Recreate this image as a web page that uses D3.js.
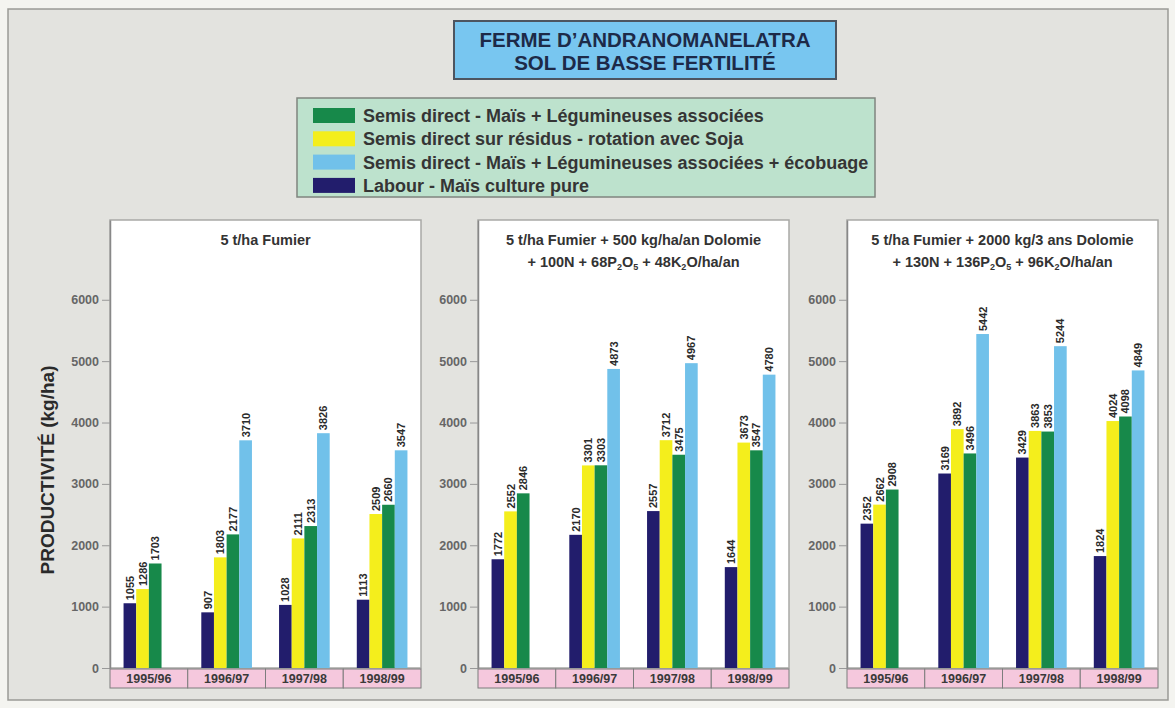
<!DOCTYPE html>
<html>
<head>
<meta charset="utf-8">
<script src="https://cdn.jsdelivr.net/npm/d3@7"></script>
<style>
  body { margin: 0; background: #f4f4f0; }
  svg { display: block; font-family: "Liberation Sans", Arial, sans-serif; }
  .narrow { font-family: "Liberation Sans Narrow", "Liberation Sans", Arial, sans-serif; }
</style>
</head>
<body>
<div id="chart"></div>
<script>
const width = 1175, height = 708;

// data
const years = ["1995/96", "1996/97", "1997/98", "1998/99"];
const seriesKeys = ["labour", "soja", "legum", "ecob"];
const seriesNames = {
  legum: "Semis direct - Maïs + Légumineuses associées",
  soja: "Semis direct sur résidus - rotation avec Soja",
  ecob: "Semis direct - Maïs + Légumineuses associées + écobuage",
  labour: "Labour - Maïs culture pure"
};
const legendOrder = ["legum", "soja", "ecob", "labour"];
const colors = { labour: "#221d6c", soja: "#f4ee1c", legum: "#17894a", ecob: "#71c1ea" };

// one entry per panel, one value per year
const labour = [[1055, 907, 1028, 1113], [1772, 2170, 2557, 1644], [2352, 3169, 3429, 1824]];
const soja   = [[1286, 1803, 2111, 2509], [2552, 3301, 3712, 3673], [2662, 3892, 3863, 4024]];
const legum  = [[1703, 2177, 2313, 2660], [2846, 3303, 3475, 3547], [2908, 3496, 3853, 4098]];
const ecob   = [[null, 3710, 3826, 3547], [null, 4873, 4967, 4780], [null, 5442, 5244, 4849]];
const yTicks = [0, 1000, 2000, 3000, 4000, 5000, 6000];

// panel titles, [text, subscript] pieces per line
const panelTitles = [
  [[["5 t/ha Fumier"]]],
  [[["5 t/ha Fumier + 500 kg/ha/an Dolomie"]],
   [["+ 100N + 68P"], ["2", 1], ["O"], ["5", 1], [" + 48K"], ["2", 1], ["O/ha/an"]]],
  [[["5 t/ha Fumier + 2000 kg/3 ans Dolomie"]],
   [["+ 130N + 136P"], ["2", 1], ["O"], ["5", 1], [" + 96K"], ["2", 1], ["O/ha/an"]]]
];

const seriesData = { labour, soja, legum, ecob };

const svg = d3.select("#chart").append("svg")
  .attr("width", width).attr("height", height);

// outer frame
svg.append("rect")
  .attr("x", 8).attr("y", 9).attr("width", 1160).attr("height", 691)
  .attr("fill", "#e3e3df").attr("stroke", "#9a9a96").attr("stroke-width", 1.5);

// main title box
svg.append("rect")
  .attr("x", 454).attr("y", 21).attr("width", 382).attr("height", 58)
  .attr("fill", "#78c6f0").attr("stroke", "#4d5560").attr("stroke-width", 2);
svg.append("g").selectAll("text")
  .data(["FERME D’ANDRANOMANELATRA", "SOL DE BASSE FERTILITÉ"])
  .join("text")
  .attr("x", 645).attr("y", (d, i) => 47 + i * 23)
  .attr("text-anchor", "middle")
  .attr("font-size", 20.5).attr("font-weight", "bold")
  .attr("fill", "#1d2a48")
  .text(d => d);

// legend
const legend = svg.append("g");
legend.append("rect")
  .attr("x", 297).attr("y", 98).attr("width", 578).attr("height", 99)
  .attr("fill", "#bde2cd").attr("stroke", "#80857f").attr("stroke-width", 1.5);
const li = legend.selectAll("g.item").data(legendOrder).join("g")
  .attr("class", "item")
  .attr("transform", (d, i) => `translate(313,${108 + i * 23.3})`);
li.append("rect")
  .attr("width", 42).attr("height", 15)
  .attr("fill", d => colors[d]);
li.append("text")
  .attr("x", 50).attr("y", 14)
  .attr("font-size", 18).attr("font-weight", "bold")
  .attr("fill", "#353535")
  .text(d => seriesNames[d]);

// y label
svg.append("text")
  .attr("transform", "translate(54,470) rotate(-90)")
  .attr("text-anchor", "middle")
  .attr("font-size", 19).attr("font-weight", "bold")
  .attr("fill", "#2a2a2a")
  .text("PRODUCTIVITÉ (kg/ha)");

const panelLeft = [110, 478, 847];
const panelW = 311, plotTop = 220, plotBottom = 668;

const y = d3.scaleLinear().domain([0, 7300]).range([plotBottom, plotTop]);

panelLeft.forEach((px, p) => {
  const g = svg.append("g");

  const x = d3.scaleBand().domain(years).range([px, px + panelW]);
  const xs = d3.scaleBand().domain(seriesKeys).range([0, x.bandwidth()])
    .paddingInner(0).paddingOuter(1.07);

  g.append("rect")
    .attr("x", px).attr("y", plotTop).attr("width", panelW).attr("height", plotBottom - plotTop)
    .attr("fill", "#ffffff").attr("stroke", "#a9a9a6").attr("stroke-width", 1.5);

  // title
  const tt = g.append("text").attr("class", "narrow")
    .attr("text-anchor", "middle")
    .attr("font-size", 14.5).attr("font-weight", "bold").attr("fill", "#333");
  panelTitles[p].forEach((line, li) => {
    line.forEach((piece, k) => {
      const ts = tt.append("tspan").text(piece[0]);
      if (k === 0) ts.attr("x", px + panelW / 2).attr("y", 245 + li * 22);
      if (piece[1]) ts.attr("font-size", 9).attr("dy", 3);
      else if (k > 0 && line[k - 1][1]) ts.attr("dy", -3);
    });
  });

  // axis
  const axis = g.append("g")
    .attr("transform", `translate(${px},0)`)
    .call(d3.axisLeft(y).tickValues(yTicks).tickSizeInner(8).tickSizeOuter(0)
      .tickPadding(3).tickFormat(d3.format("d")));
  axis.select(".domain").attr("stroke", "#888").attr("stroke-width", 1.5);
  axis.selectAll(".tick line").attr("stroke", "#999");
  axis.selectAll(".tick text")
    .attr("font-size", 12.5).attr("font-weight", "bold").attr("fill", "#666")
    .attr("font-family", "'Liberation Sans', Arial, sans-serif");

  // bars
  const rows = [];
  years.forEach((yr, i) => {
    seriesKeys.forEach(k => {
      const v = seriesData[k][p][i];
      if (v != null) rows.push({ year: yr, key: k, value: v });
    });
  });

  g.append("g").selectAll("rect")
    .data(rows).join("rect")
    .attr("x", d => x(d.year) + xs(d.key))
    .attr("y", d => y(d.value))
    .attr("width", xs.bandwidth())
    .attr("height", d => y(0) - y(d.value))
    .attr("fill", d => colors[d.key]);

  g.append("g").selectAll("text")
    .data(rows).join("text")
    .attr("class", "narrow")
    .attr("transform", d => `translate(${x(d.year) + xs(d.key) + xs.bandwidth() / 2 + 4},${y(d.value) - 3}) rotate(-90)`)
    .attr("font-size", 11).attr("font-weight", "bold")
    .attr("fill", "#2a2a2a")
    .attr("stroke", "#ffffff").attr("stroke-width", 2).attr("paint-order", "stroke")
    .text(d => d.value);

  // year band
  const band = g.append("g");
  band.selectAll("rect").data(years).join("rect")
    .attr("x", d => x(d)).attr("y", plotBottom + 1)
    .attr("width", x.bandwidth()).attr("height", 19)
    .attr("fill", "#f5c8dd").attr("stroke", "#7d7d7d").attr("stroke-width", 1);
  band.selectAll("text").data(years).join("text")
    .attr("x", d => x(d) + x.bandwidth() / 2).attr("y", plotBottom + 15)
    .attr("text-anchor", "middle")
    .attr("font-size", 12.5).attr("font-weight", "bold").attr("fill", "#3a3a3a")
    .text(d => d);
});
</script>
</body>
</html>
